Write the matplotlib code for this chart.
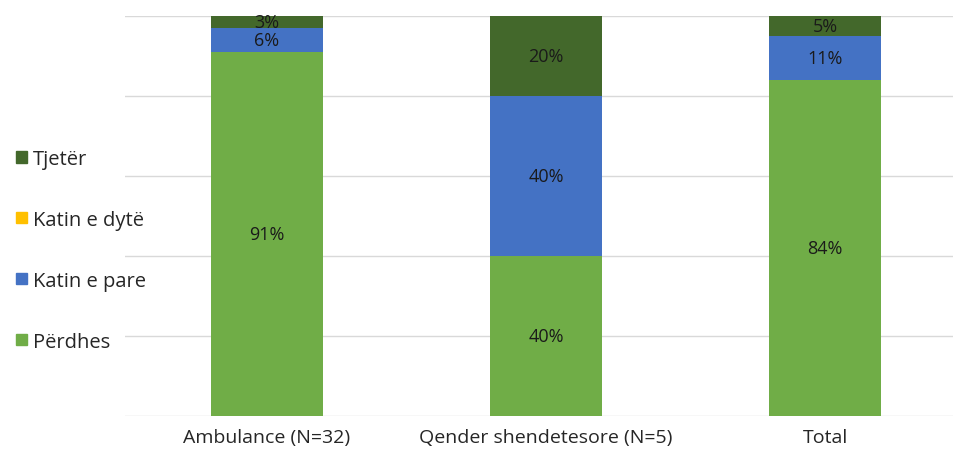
import matplotlib
matplotlib.use("Agg")
import matplotlib.pyplot as plt
from matplotlib.patches import Patch

categories = ["Ambulance (N=32)", "Qender shendetesore (N=5)", "Total"]
series_names = ["Përdhes", "Katin e pare", "Katin e dytë", "Tjetër"]
perdhes = [91, 40, 84]
katin_pare = [6, 40, 11]
katin_dyte = [0, 0, 0]
tjeter = [3, 20, 5]
colors = ["#70AD47", "#4472C4", "#FFC000", "#43682B"]

plt.rcParams['font.family'] = ['Open Sans', 'DejaVu Sans']

fig = plt.figure(figsize=(9.54, 4.52), dpi=100)
ax = fig.add_axes([125/954, 35/452, 1 - 125/954, 400/452])

series = [perdhes, katin_pare, katin_dyte, tjeter]
x = list(range(len(categories)))
bottom = [0, 0, 0]
for name, vals, col in zip(series_names, series, colors):
    ax.bar(x, vals, width=0.40, bottom=bottom, color=col, label=name, zorder=3)
    for xi, v, b in zip(x, vals, bottom):
        if v > 0:
            ax.text(xi, b + v / 2, f"{v}%", ha="center", va="center",
                    fontsize=13, color="#1a1a1a", zorder=4)
    bottom = [b + v for b, v in zip(bottom, vals)]

ax.set_ylim(0, 100)
ax.set_xlim(-0.509, 2.462)
ax.set_yticks([0, 20, 40, 60, 80, 100])
ax.yaxis.grid(True, color="#d9d9d9", linewidth=1, zorder=0)
ax.set_yticklabels([])
ax.tick_params(axis="y", length=0)
ax.tick_params(axis="x", length=0, pad=9)
ax.set_xticks(x)
ax.set_xticklabels(categories, fontsize=14, color="#262626")
for s in ax.spines.values():
    s.set_visible(False)

handles = [Patch(color=c) for c in colors][::-1]
labels = series_names[::-1]
fig.legend(handles, labels, loc="upper left", bbox_to_anchor=(0.008, 0.686),
           frameon=False, fontsize=14.5, labelcolor="#262626",
           handlelength=0.55, handleheight=0.5, handletextpad=0.3,
           labelspacing=2.03, borderaxespad=0)

fig.savefig("out.png", dpi=100)
